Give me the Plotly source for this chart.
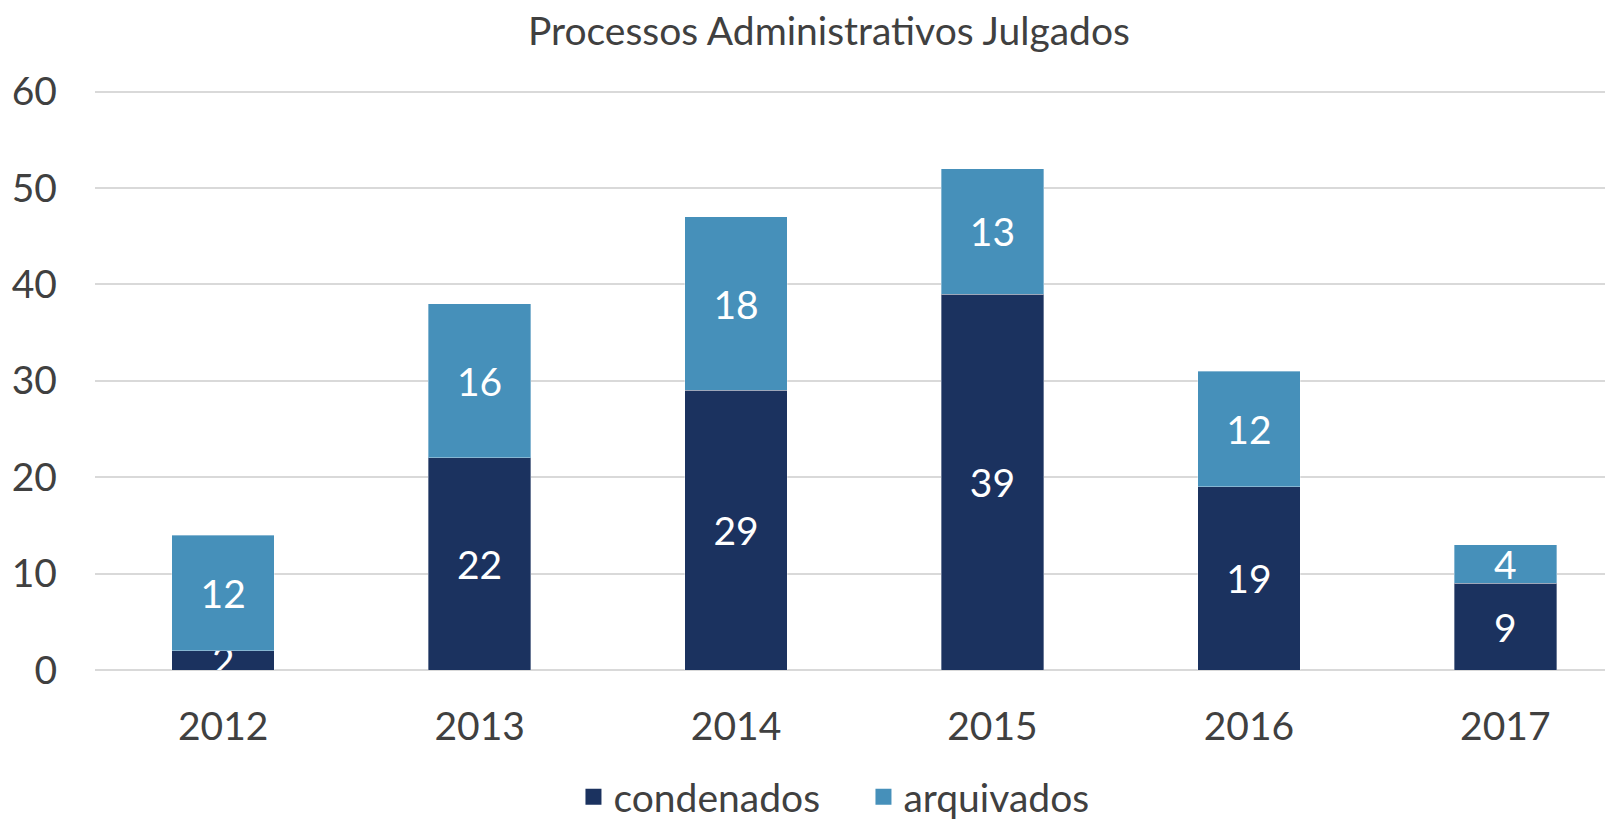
import plotly.graph_objects as go

anos = ["2012", "2013", "2014", "2015", "2016", "2017"]
condenados = [2, 22, 29, 39, 19, 9]
arquivados = [12, 16, 18, 13, 12, 4]

FONT = "Lato"
TXT = "#404040"
AZUL_ESCURO = "#1B325F"
AZUL_CLARO = "#4690BA"

fig = go.Figure()

# barras empilhadas (legenda feita com marcadores quadrados abaixo)
for nome, valores, cor in [("condenados", condenados, AZUL_ESCURO),
                           ("arquivados", arquivados, AZUL_CLARO)]:
    fig.add_trace(go.Bar(
        x=anos, y=valores, name=nome, showlegend=False,
        marker=dict(color=cor, line=dict(color="rgba(255,255,255,0.35)", width=1)),
        text=valores, textposition="inside", insidetextanchor="middle",
        textangle=0, constraintext="none",
        textfont=dict(color="white", size=39, family=FONT),
    ))
    fig.add_trace(go.Scatter(
        x=[None], y=[None], mode="markers", name=nome,
        marker=dict(symbol="square", size=26, color=cor),
    ))

fig.update_layout(
    width=1605, height=811,
    barmode="stack", bargap=0.6,
    plot_bgcolor="white", paper_bgcolor="white",
    font=dict(family=FONT, color=TXT, size=38),
    title=dict(text="Processos Administrativos Julgados", x=0.5115, xref="container",
               xanchor="center", y=0.971, yref="container", yanchor="middle",
               font=dict(size=39, color=TXT, family=FONT)),
    margin=dict(l=87, r=0, t=74, b=149, autoexpand=False),
    uniformtext=dict(minsize=39, mode="show"),
    legend=dict(orientation="h", x=0.533, xref="container", xanchor="center",
                y=-0.216, yref="paper", yanchor="middle",
                font=dict(size=39, color=TXT), traceorder="normal",
                itemwidth=30, entrywidth=245),
)

fig.update_xaxes(range=[-0.5, 5.42], showgrid=False, showline=False, automargin=False,
                 tickangle=0, ticks="", tickfont=dict(size=39, color=TXT),
                 ticklabelstandoff=30)
fig.update_yaxes(range=[0, 61], tickvals=[0, 10, 20, 30, 40, 50, 60],
                 gridcolor="#D9D9D9", gridwidth=2, automargin=False,
                 zeroline=True, zerolinecolor="#D9D9D9", zerolinewidth=2,
                 tickfont=dict(size=39, color=TXT), ticklabelstandoff=37)

fig.write_html("out.html")
